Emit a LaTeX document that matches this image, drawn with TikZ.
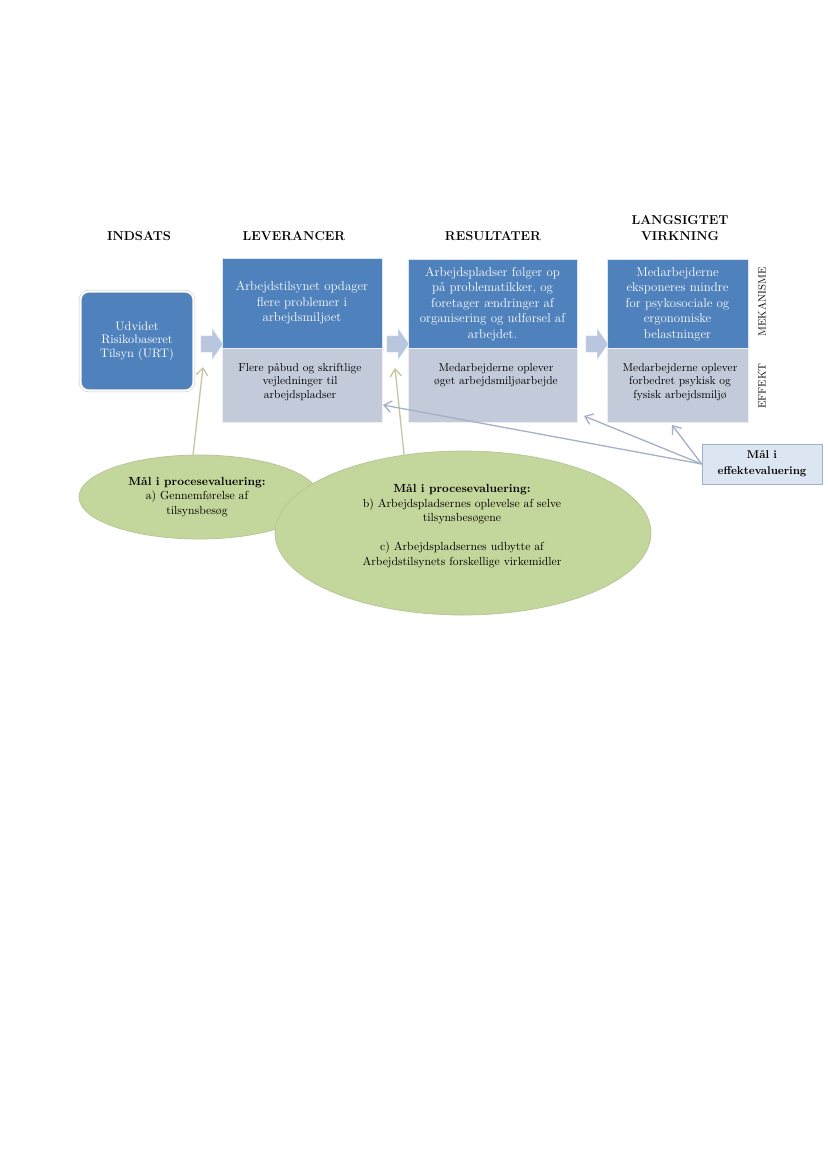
\documentclass[tikz,border=0pt]{standalone}
\usepackage{tikz}
\usetikzlibrary{shapes.geometric,shapes.arrows,arrows.meta}

\definecolor{mechblue}{RGB}{79,129,189}
\definecolor{effgrey}{RGB}{195,202,217}
\definecolor{arrowfill}{RGB}{184,199,223}
\definecolor{goalfill}{RGB}{220,230,242}
\definecolor{goalline}{RGB}{160,176,204}
\definecolor{procgreen}{RGB}{195,214,155}
\definecolor{oliveline}{RGB}{196,199,156}
\definecolor{effline}{RGB}{163,176,199}

\begin{document}
\begin{tikzpicture}[x=0.03cm, y=-0.03cm,
	head/.style={font=\fontsize{11}{13}\selectfont\bfseries, align=center},
	urtbox/.style={fill=mechblue, draw=black!22, double=white, double distance=1.6pt,
		rounded corners=0.25cm, text=white, align=center,
		font=\fontsize{10.5}{11.6}\selectfont},
	mechbox/.style={fill=mechblue, draw=white!80!mechblue, minimum height=2.7cm, inner sep=0pt,
		text=white, align=center, font=\fontsize{11}{13.2}\selectfont},
	effbox/.style={fill=effgrey, draw=white!70!effgrey, minimum height=2.22cm, inner sep=0pt},
	efftext/.style={font=\fontsize{9.8}{11.5}\selectfont, align=center, anchor=north},
	flowarrow/.style={single arrow, fill=arrowfill, draw=white!60!arrowfill, minimum height=0.66cm,
		inner sep=0.24cm, single arrow head extend=0.22cm, single arrow tip angle=110},
	sidelabel/.style={rotate=90, font=\fontsize{9}{10}\selectfont},
	procgoal/.style={ellipse, fill=procgreen, draw=procgreen!80!gray, line width=0.6pt, inner sep=0pt},
	proctext/.style={align=center, font=\fontsize{10}{12.4}\selectfont},
	effgoal/.style={rectangle, fill=goalfill, draw=goalline, line width=0.6pt, align=center,
		font=\fontsize{9.6}{13.4}\selectfont\bfseries},
	procline/.style={draw=oliveline, line width=1.1pt, -{Straight Barb[length=2.2mm, width=3.4mm]}},
	effarrow/.style={draw=effline, line width=1.1pt, -{Straight Barb[length=2.2mm, width=3.4mm]}}
]
	\useasboundingbox (0,0) rectangle (827,1169);
	\fill[white] (0,0) rectangle (827,1169);

	% column headings
	\node[head] (hindsats) at (139,236) {INDSATS};
	\node[head] (hlev) at (294,236) {LEVERANCER};
	\node[head] (hres) at (493,236) {RESULTATER};
	\node[head] (hlang) at (680,228) {LANGSIGTET\\VIRKNING};

	% indsats
	\node[urtbox, minimum width=3.4cm, minimum height=2.98cm] (urt) at (137,341)
		{Udvidet\\Risikobaseret\\Tilsyn (URT)};

	% mekanisme row
	\node[mechbox, minimum width=4.8cm] (levmech) at (302,303)
		{Arbejdstilsynet opdager\\flere problemer i\\arbejdsmiljøet};
	\node[mechbox, minimum width=5.07cm] (resmech) at (492.5,304)
		{Arbejdspladser følger op\\på problematikker, og\\foretager ændringer af\\organisering og udførsel af\\arbejdet.};
	\node[mechbox, minimum width=4.23cm] (langmech) at (677.5,304)
		{Medarbejderne\\eksponeres mindre\\for psykosociale og\\ergonomiske\\belastninger};

	% effekt row
	\node[effbox, minimum width=4.8cm] (leveff) at (302,385) {};
	\node[effbox, minimum width=5.07cm] (reseff) at (492.5,385) {};
	\node[effbox, minimum width=4.23cm] (langeff) at (677.5,385) {};
	\node[efftext] (leveffTxt) at (300,359) {Flere påbud og skriftlige\\vejledninger til\\arbejdspladser};
	\node[efftext] (reseffTxt) at (496,359) {Medarbejderne oplever\\øget arbejdsmiljøarbejde};
	\node[efftext] (langeffTxt) at (680,359) {Medarbejderne oplever\\forbedret psykisk og\\fysisk arbejdsmiljø};

	% block arrows between the columns
	\node[flowarrow] (ar1) at (209,344) {};
	\node[flowarrow] (ar2) at (395,344) {};
	\node[flowarrow] (ar3) at (594,344) {};

	\node[sidelabel] (mek) at (762,302) {MEKANISME};
	\node[sidelabel] (eff) at (762,386) {EFFEKT};

	% process goals
	\node[procgoal, minimum width=7.2cm, minimum height=2.52cm] (procA) at (199,497) {};
	\node[procgoal, minimum width=11.28cm, minimum height=4.92cm] (procB) at (463,533) {};
	\node[proctext] (procAtxt) at (197,497)
		{\textbf{Mål i procesevaluering:}\\a) Gennemførelse af\\tilsynsbesøg};
	\node[proctext] (procBtxt) at (462,526)
		{\textbf{Mål i procesevaluering:}\\b) Arbejdspladsernes oplevelse af selve\\tilsynsbesøgene\\[12.4pt]c) Arbejdspladsernes udbytte af\\Arbejdstilsynets forskellige virkemidler};

	% effect goal
	\node[effgoal, minimum width=3.6cm, minimum height=1.2cm] (effgoal) at (762,464)
		{Mål i\\effektevaluering};

	% connectors
	\coordinate (tipA) at (203,367);
	\coordinate (tipB) at (395,368);
	\coordinate (tipLev) at (383,405);
	\coordinate (tipRes) at (584,416);
	\coordinate (tipLang) at (672,425);
	\draw[procline] (procA.98) -- (tipA);
	\draw[procline] (procB.127) -- (tipB);
	\foreach \t in {tipLev,tipRes,tipLang} {
		\draw[effarrow] (effgoal.west) -- (\t);
	}
\end{tikzpicture}
\end{document}
